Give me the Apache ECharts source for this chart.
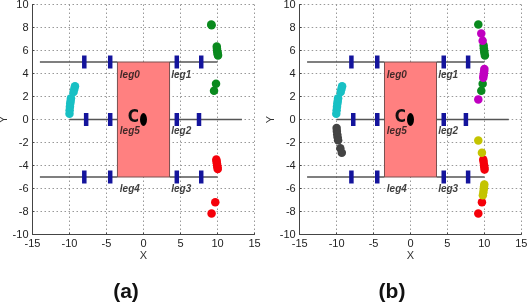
<!DOCTYPE html>
<html><head><meta charset="utf-8">
<style>html,body{margin:0;padding:0;background:#fff}#c{width:527px;height:305px;filter:blur(0.4px)}</style>
<script src="https://cdn.jsdelivr.net/npm/echarts@6/dist/echarts.min.js"></script>
</head><body><div id="c"></div>
<script>
const xTicks=[-15,-10,-5,0,5,10,15];
const yTicks=[-10,-8,-6,-4,-2,0,2,4,6,8,10];
const body=[[-3.52,-5,3.52,5]];
const legSegments=[
 [[-14,5],[-3.52,5]],[[3.52,5],[10,5]],
 [[-10,0],[-3.52,0]],[[3.52,0],[13.3,0]],
 [[-14,-5],[-3.52,-5]],[[3.52,-5],[10,-5]]];
const joints=[[-8,5],[-4.5,5],[4.5,5],[7.8,5],[-7.75,0],[-4.5,0],[4.5,0],[7.5,0],[-8,-5],[-4.5,-5],[4.5,-5],[7.8,-5]];
const legLabels=[['leg0',-1.85,3.86],['leg1',5.1,3.86],['leg5',-1.85,-1.0],['leg2',5.1,-1.0],['leg4',-1.85,-6.1],['leg3',5.1,-6.1]];
const centre=[0,0];
const cyanA=[[-10,0.5],[-9.98,0.8],[-9.94,1.1],[-9.9,1.4],[-9.85,1.6],[-9.8,1.85],[-9.45,2.4],[-9.35,2.65],[-9.26,2.9]];
const greenA=[[9.16,8.26],[9.2,8.2],[9.9,6.35],[9.93,6.15],[9.96,5.95],[10,5.8],[10.04,5.68],[10.07,5.57],[9.8,3.1],[9.53,2.5]];
const redA=[[9.84,-3.48],[9.88,-3.65],[9.92,-3.8],[9.96,-4.0],[10,-4.15],[10.03,-4.3],[9.7,-7.2],[9.2,-8.17]];
const cyanB=[[-10.05,0.5],[-10,0.8],[-9.95,1.1],[-9.9,1.4],[-9.85,1.6],[-9.8,1.85],[-9.45,2.4],[-9.35,2.65],[-9.26,2.9]];
const greyB=[[-10,-0.74],[-9.97,-1.0],[-9.92,-1.3],[-9.86,-1.55],[-9.8,-1.8],[-9.5,-2.5],[-9.3,-2.9]];
const greenB=[[9.18,8.26],[9.9,6.44],[9.93,6.2],[9.97,6.0],[10,5.8],[10.07,5.57],[9.77,3.1],[9.58,2.5]];
const magentaB=[[9.58,7.48],[9.77,6.84],[10,4.4],[9.97,4.2],[9.93,4.0],[9.9,3.85],[9.85,3.64],[9.18,1.75]];
const redB=[[9.85,-3.48],[9.9,-3.7],[9.95,-3.95],[10,-4.15],[10.03,-4.35],[9.67,-7.2],[9.18,-8.17]];
const yellowB=[[9.18,-1.83],[9.67,-2.9],[9.99,-5.65],[9.95,-5.85],[9.92,-6.05],[9.87,-6.3],[9.8,-6.58]];

const panels=[
 {left:32.5,width:222,name:'(a)',nameX:126,sets:[[cyanA,'#18c0c4'],[greenA,'#0a8a1e'],[redA,'#f5000a']]},
 {left:299.7,width:221.6,name:'(b)',nameX:392,sets:[[cyanB,'#18c0c4'],[greyB,'#444444'],[greenB,'#0a8a1e'],[magentaB,'#c000c0'],[redB,'#f5000a'],[yellowB,'#c4c400']]}
];
const FONT='"Liberation Sans",Arial,sans-serif';
const option={animation:false,title:[],grid:[],xAxis:[],yAxis:[],series:[]};
panels.forEach((p,i)=>{
 option.grid.push({left:p.left,top:4.5,width:p.width,height:230,containLabel:false,outerBoundsMode:'none'});
 const split={show:true,lineStyle:{color:'#999999',type:[1.5,2.5],width:1}};
 const line={show:true,onZero:false,lineStyle:{color:'#444444',width:1}};
 option.xAxis.push({type:'value',gridIndex:i,min:xTicks[0],max:xTicks[xTicks.length-1],interval:5,
  name:'X',nameLocation:'middle',nameGap:16,nameMoveOverlap:false,nameTextStyle:{fontFamily:FONT,fontSize:11,color:'#333'},
  axisLine:line,axisTick:{show:true,inside:true,length:2,lineStyle:{color:'#444'}},splitLine:split,
  axisLabel:{fontFamily:FONT,fontSize:11,color:'#222',margin:4,showMinLabel:true,showMaxLabel:true}});
 option.yAxis.push({type:'value',gridIndex:i,min:yTicks[0],max:yTicks[yTicks.length-1],interval:2,
  name:'Y',nameLocation:'middle',nameGap:23,nameMoveOverlap:false,nameTextStyle:{fontFamily:FONT,fontSize:11,color:'#333'},
  axisLine:line,axisTick:{show:true,inside:true,length:2,lineStyle:{color:'#444'}},splitLine:split,
  axisLabel:{fontFamily:FONT,fontSize:11,color:'#222',margin:4,showMinLabel:true,showMaxLabel:true}});
 option.title.push({text:p.name,left:p.nameX,top:282,textAlign:'center',padding:0,
  textStyle:{fontFamily:FONT,fontSize:21,fontWeight:'bold',color:'#111'}});
 option.series.push({type:'custom',xAxisIndex:i,yAxisIndex:i,silent:true,z:1,data:body,
  encode:{x:[0,2],y:[1,3]},
  renderItem:(params,api)=>{
   const a=api.coord([api.value(0),api.value(1)]),b=api.coord([api.value(2),api.value(3)]);
   return {type:'rect',shape:{x:a[0],y:b[1],width:b[0]-a[0],height:a[1]-b[1]},
    style:{fill:'#ff8080',stroke:'#7a5050',lineWidth:1}};
  }});
 legSegments.forEach(s=>option.series.push({type:'line',xAxisIndex:i,yAxisIndex:i,data:s,showSymbol:false,silent:true,z:2,
  lineStyle:{color:'#555555',width:1.5}}));
 option.series.push({type:'scatter',xAxisIndex:i,yAxisIndex:i,data:joints,symbol:'rect',symbolSize:[4.5,13],silent:true,z:3,
  itemStyle:{color:'#14149c',opacity:1}});
 p.sets.forEach(([d,c])=>option.series.push({type:'scatter',xAxisIndex:i,yAxisIndex:i,data:d,symbol:'circle',symbolSize:8.5,silent:true,z:4,
  itemStyle:{color:c,opacity:1}}));
 option.series.push({type:'scatter',xAxisIndex:i,yAxisIndex:i,silent:true,z:5,
  data:[{value:centre,name:'C'}],
  symbol:'path://M50 0A50 50 0 1 1 50 100A50 50 0 1 1 50 0Z',symbolKeepAspect:false,symbolSize:[7,13],
  itemStyle:{color:'#000',opacity:1},
  label:{show:true,position:'left',distance:1,formatter:'C',fontFamily:'"DejaVu Sans Condensed","Liberation Sans Narrow",sans-serif',fontSize:17,fontWeight:'bold',color:'#111',offset:[0,-2]}});
 option.series.push({type:'scatter',xAxisIndex:i,yAxisIndex:i,silent:true,z:6,symbolSize:0,
  data:legLabels.map(l=>({value:[l[1],l[2]],name:l[0]})),
  label:{show:true,position:'inside',formatter:'{b}',fontFamily:FONT,fontSize:10,fontWeight:'bold',fontStyle:'italic',color:'#111'}});
});
const chart=echarts.init(document.getElementById('c'),null,{renderer:'canvas'});
chart.setOption(option);
</script></body></html>
